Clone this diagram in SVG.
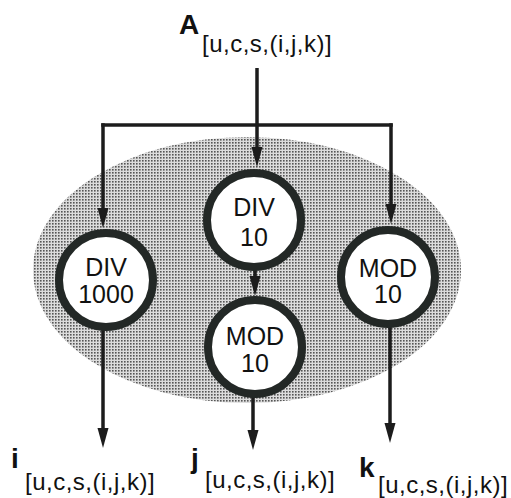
<svg xmlns="http://www.w3.org/2000/svg" width="511" height="498" viewBox="0 0 511 498">
<style>
.node circle{fill:#fff;stroke:#232826;stroke-width:8}
.node text{font-family:"Liberation Sans",Arial,sans-serif;font-size:25px;fill:#111;text-anchor:middle}
.conn line{stroke:#1c1c1c;stroke-width:3.5;fill:none}
.lbl{font-family:"Liberation Sans",Arial,sans-serif;fill:#111}
.main{font-size:28px;font-weight:bold}
.sub{font-size:24px;letter-spacing:0.5px}
</style>
<defs>
<pattern id="dots" width="3" height="3" patternUnits="userSpaceOnUse">
<rect width="3" height="3" fill="#dcdcdc"/>
<rect x="1" y="1" width="1.6" height="1.6" fill="#555"/>
</pattern>
<marker id="ah" markerUnits="userSpaceOnUse" markerWidth="20" markerHeight="12" refX="10" refY="5.5" orient="auto">
<path d="M0,0 L20,5.5 L0,11 z" fill="#1c1c1c"/>
</marker>
</defs>
<rect width="511" height="498" fill="#fff"/>
<ellipse id="region" cx="247" cy="270" rx="214" ry="133" fill="url(#dots)"/>
<g class="conn">
<line x1="257" y1="68" x2="257" y2="157" marker-end="url(#ah)"/>
<line x1="101.25" y1="125" x2="392.75" y2="125"/>
<line x1="103" y1="123.25" x2="103" y2="218" marker-end="url(#ah)"/>
<line x1="391" y1="123.25" x2="391" y2="214" marker-end="url(#ah)"/>
<line x1="255" y1="270" x2="255" y2="286" marker-end="url(#ah)"/>
<line x1="103" y1="330" x2="103" y2="438" marker-end="url(#ah)"/>
<line x1="253" y1="396" x2="253" y2="440" marker-end="url(#ah)"/>
<line x1="390" y1="326" x2="390" y2="433" marker-end="url(#ah)"/>
</g>
<g id="div1000" class="node">
<circle cx="106" cy="280" r="47"/>
<text x="106" y="276">DIV</text>
<text x="106" y="303">1000</text>
</g>
<g id="div10" class="node">
<circle cx="254" cy="220" r="47"/>
<text x="254" y="216">DIV</text>
<text x="254" y="246">10</text>
</g>
<g id="mod10b" class="node">
<circle cx="255" cy="347" r="47"/>
<text x="255" y="345">MOD</text>
<text x="255" y="372">10</text>
</g>
<g id="mod10r" class="node">
<circle cx="388" cy="277" r="47"/>
<text x="388" y="277">MOD</text>
<text x="388" y="303">10</text>
</g>
<g id="labels">
<text class="lbl main" x="179" y="34">A</text>
<text class="lbl sub" x="202" y="52">[u,c,s,(i,j,k)]</text>
<text class="lbl main" x="11" y="468">i</text>
<text class="lbl sub" x="25" y="490">[u,c,s,(i,j,k)]</text>
<text class="lbl main" x="191" y="468">j</text>
<text class="lbl sub" x="205" y="488">[u,c,s,(i,j,k)]</text>
<text class="lbl main" x="359" y="477">k</text>
<text class="lbl sub" x="378" y="493">[u,c,s,(i,j,k)]</text>
</g>
</svg>
